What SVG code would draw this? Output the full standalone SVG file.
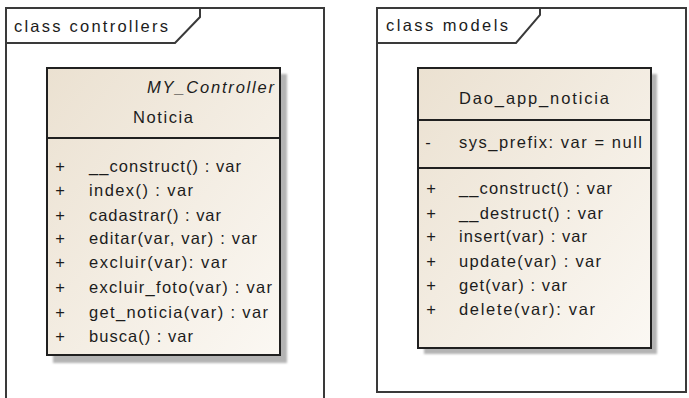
<svg xmlns="http://www.w3.org/2000/svg" width="689" height="398" viewBox="0 0 689 398">
  <defs>
    <linearGradient id="classFill" x1="0" y1="0" x2="1" y2="1">
      <stop offset="0" stop-color="#ebe1d1"/>
      <stop offset="1" stop-color="#fbf8f3"/>
    </linearGradient>
    <filter id="soft" x="-5%" y="-5%" width="110%" height="110%">
      <feGaussianBlur stdDeviation="1"/>
    </filter>
  </defs>
  <style>
    .frame { fill: none; stroke: #3a3a3a; stroke-width: 2; }
    .box { fill: url(#classFill); stroke: #202020; stroke-width: 2; }
    .shadow { fill: #b4b4b4; filter: url(#soft); }
    .sep { stroke: #202020; stroke-width: 2; }
    text { font-family: "Liberation Sans", Arial, sans-serif; font-size: 16.5px; fill: #1c1c1c; }
    .vis { text-anchor: middle; }
    .stereo { font-style: italic; }
  </style>

  <rect width="689" height="398" fill="#ffffff"/>

  <!-- package: controllers -->
  <g id="pkg-controllers">
    <path class="frame" d="M6,400 V8 H324 V400"/>
    <path class="frame" d="M6,43 H175 L200,17 V8"/>
    <text x="14" y="32" textLength="154" lengthAdjust="spacing">class controllers</text>
  </g>

  <!-- package: models -->
  <g id="pkg-models">
    <rect class="frame" x="377" y="8" width="309" height="384"/>
    <path class="frame" d="M377,43 H516 L540,15 V8"/>
    <text x="386" y="31" textLength="122" lengthAdjust="spacing">class models</text>
  </g>

  <!-- class Noticia -->
  <g id="class-noticia">
    <rect class="shadow" x="53" y="74" width="234" height="289"/>
    <rect class="box" x="47" y="68" width="233" height="287"/>
    <line class="sep" x1="47" y1="138" x2="280" y2="138"/>
    <text class="stereo" x="147" y="93" textLength="127" lengthAdjust="spacing">MY_Controller</text>
    <text x="133" y="123" textLength="60" lengthAdjust="spacing">Noticia</text>
    <text class="vis" x="60" y="172">+</text>
    <text x="89" y="172" textLength="152" lengthAdjust="spacing">__construct() : var</text>
    <text class="vis" x="60" y="196">+</text>
    <text x="89" y="196" textLength="104" lengthAdjust="spacing">index() : var</text>
    <text class="vis" x="60" y="221">+</text>
    <text x="89" y="221" textLength="132" lengthAdjust="spacing">cadastrar() : var</text>
    <text class="vis" x="60" y="244">+</text>
    <text x="89" y="244" textLength="168" lengthAdjust="spacing">editar(var, var) : var</text>
    <text class="vis" x="60" y="268">+</text>
    <text x="89" y="268" textLength="138" lengthAdjust="spacing">excluir(var): var</text>
    <text class="vis" x="60" y="293">+</text>
    <text x="89" y="293" textLength="183" lengthAdjust="spacing">excluir_foto(var) : var</text>
    <text class="vis" x="60" y="318">+</text>
    <text x="89" y="318" textLength="179" lengthAdjust="spacing">get_noticia(var) : var</text>
    <text class="vis" x="60" y="342">+</text>
    <text x="89" y="342" textLength="104" lengthAdjust="spacing">busca() : var</text>
  </g>

  <!-- class Dao_app_noticia -->
  <g id="class-dao-app-noticia">
    <rect class="shadow" x="424" y="74" width="233" height="280"/>
    <rect class="box" x="418" y="68" width="233" height="280"/>
    <line class="sep" x1="418" y1="120" x2="651" y2="120"/>
    <line class="sep" x1="418" y1="168" x2="651" y2="168"/>
    <text x="459" y="104" textLength="150" lengthAdjust="spacing">Dao_app_noticia</text>
    <text class="vis" x="428" y="148">-</text>
    <text x="459" y="148" textLength="183" lengthAdjust="spacing">sys_prefix:  var = null</text>
    <text class="vis" x="431" y="194">+</text>
    <text x="459" y="194" textLength="153" lengthAdjust="spacing">__construct() : var</text>
    <text class="vis" x="431" y="219">+</text>
    <text x="459" y="219" textLength="144" lengthAdjust="spacing">__destruct() : var</text>
    <text class="vis" x="431" y="242">+</text>
    <text x="459" y="242" textLength="128" lengthAdjust="spacing">insert(var) : var</text>
    <text class="vis" x="431" y="267">+</text>
    <text x="459" y="267" textLength="142" lengthAdjust="spacing">update(var) : var</text>
    <text class="vis" x="431" y="291">+</text>
    <text x="459" y="291" textLength="108" lengthAdjust="spacing">get(var) : var</text>
    <text class="vis" x="431" y="315">+</text>
    <text x="459" y="315" textLength="136" lengthAdjust="spacing">delete(var): var</text>
  </g>

  <!-- no relationships are drawn between these classes -->
  <g id="connectors"/>
</svg>
